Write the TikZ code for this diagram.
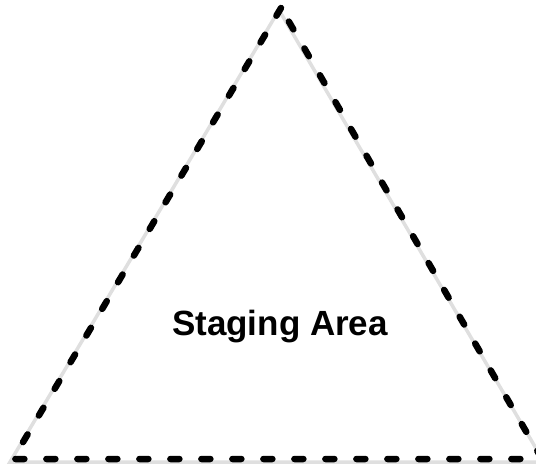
\documentclass[tikz,border=0pt]{standalone}
\usepackage{fontspec}
\setmainfont{Liberation Sans}
\usepackage{tikz}

\tikzset{
  dashedge/.style={line width=6.5pt, line cap=round, line join=round, dash pattern=on 9pt off 22pt},
  shadowedge/.style={line width=3.5pt, gray!25}
}

\begin{document}
\begin{tikzpicture}[x=1pt,y=1pt,yscale=-1]
\useasboundingbox (0,0) rectangle (536,468);

%Shape: Triangle shadow
\draw [shadowedge]  (279,10) -- (10,462) -- (544,462) -- cycle ;
%Shape: Triangle
\draw [dashedge]  (281,8) -- (13,459) -- (542,459) -- cycle ;

% Text Node
\node (staging) at (280,335) [anchor=base,inner sep=0pt] [font=\bfseries\fontsize{35}{40}\selectfont] {Staging Area};

\end{tikzpicture}
\end{document}
